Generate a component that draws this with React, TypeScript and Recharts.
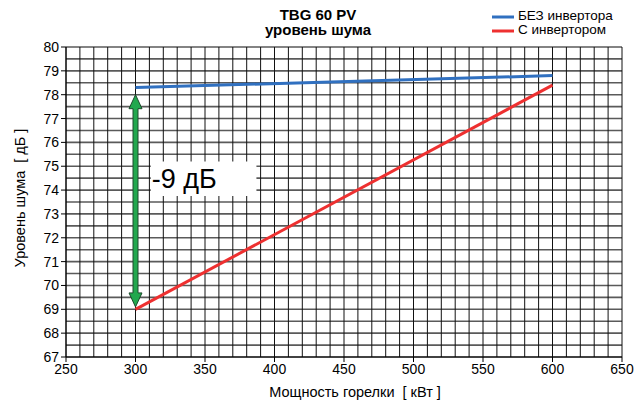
import {
	LineChart,
	Line,
	XAxis,
	YAxis,
	CartesianGrid,
	Legend,
	ReferenceLine,
	ReferenceArea,
} from 'recharts';

// мощность горелки, кВт
const power = [300, 600];
// уровень шума, дБ
const noiseNoInverter = [78.3, 78.8];
const noiseInverter = [69.0, 78.4];

const xTicks = [250, 300, 350, 400, 450, 500, 550, 600, 650];
const yTicks = [67, 68, 69, 70, 71, 72, 73, 74, 75, 76, 77, 78, 79, 80];

// minor grid: every 10 kW and every 0.5 dB
const xGrid: number[] = [];
for (let v = 250; v <= 650; v += 10) xGrid.push(v);
const yGrid: number[] = [];
for (let v = 67; v <= 80; v += 0.5) yGrid.push(v);

// arrow and "-9 дБ" note
const arrowX = 300;
const arrowTop = 78.0;
const arrowBottom = 69.1;
const noteLabel = '-9 дБ';

const data = power.map((p, i) => ({
	x: p,
	blue: noiseNoInverter[i],
	red: noiseInverter[i],
}));

const FONT = '"Liberation Sans", Arial, sans-serif';

const Arrow = (props: any) => {
	const { x1, y1, y2 } = props;
	const x = x1;
	const top = Math.min(y1, y2);
	const bot = Math.max(y1, y2);
	const hw = 6.5;
	const hl = 14;
	const sw = 2.5;
	const pts = [
		[x, top],
		[x + hw, top + hl],
		[x + sw, top + hl],
		[x + sw, bot - hl],
		[x + hw, bot - hl],
		[x, bot],
		[x - hw, bot - hl],
		[x - sw, bot - hl],
		[x - sw, top + hl],
		[x - hw, top + hl],
	]
		.map((p) => p.join(','))
		.join(' ');
	return <polygon points={pts} fill='#22a84e' stroke='#1d4a2c' strokeWidth={1} />;
};

const vLine = (p: any) => (
	<line key={p.key} x1={p.x1} y1={p.y1} x2={p.x2} y2={p.y2} stroke='#111' strokeWidth={1} />
);
const hLine = (p: any) => (
	<line key={p.key} x1={p.x1} y1={p.y1} x2={p.x2} y2={p.y2} stroke='#5a5a5a' strokeWidth={1.6} />
);

const hGridCoords = (args: any) => {
	const scale = args?.yAxis?.scale;
	if (!scale) return [];
	const fn = typeof scale === 'function' ? scale : scale.map ?? scale.scale;
	return yGrid.map((v) => fn(v));
};

const renderLegend = () => (
	<svg width={145} height={36} style={{ display: 'block' }}>
		<line x1={2} y1={11} x2={24} y2={11} stroke='#3070c0' strokeWidth={3} />
		<line x1={2} y1={25} x2={24} y2={25} stroke='#ee3030' strokeWidth={3} />
		<text x={28} y={14} fontSize={13.5} fontFamily={FONT} fill='#000'>
			БЕЗ инвертора
		</text>
		<text x={28} y={28} fontSize={13.5} fontFamily={FONT} fill='#000'>
			С инвертором
		</text>
	</svg>
);

const XTick = (props: any) => {
	const { x, y, payload } = props;
	return (
		<text x={x} y={y + 10} textAnchor='middle' fontSize={14} fontFamily={FONT} fill='#000'>
			{payload.value}
		</text>
	);
};

const YTick = (props: any) => {
	const { x, y, payload } = props;
	return (
		<text x={x} y={y + 5} textAnchor='end' fontSize={14} fontFamily={FONT} fill='#000'>
			{payload.value}
		</text>
	);
};

export default function App() {
	return (
		<div style={{ position: 'absolute', top: 0, left: 0, background: '#fff' }}>
			<LineChart
				width={640}
				height={406}
				data={data}
				margin={{ top: 47, right: 18, bottom: 19, left: 0 }}
			>
				<XAxis
					xAxisId='g'
					type='number'
					dataKey='x'
					domain={[250, 650]}
					ticks={xGrid}
					interval={0}
					hide
				/>
				<CartesianGrid
					xAxisId='g'
					vertical={vLine}
					horizontal={hLine}
					horizontalCoordinatesGenerator={hGridCoords}
				/>
				<XAxis
					type='number'
					dataKey='x'
					domain={[250, 650]}
					ticks={xTicks}
					interval={0}
					height={30}
					axisLine={{ stroke: '#000' }}
					tickLine={{ stroke: '#000' }}
					tickSize={5}
					tick={<XTick />}
				/>
				<YAxis
					type='number'
					domain={[67, 80]}
					ticks={yTicks}
					interval={0}
					width={66}
					axisLine={{ stroke: '#000' }}
					tickLine={{ stroke: '#000' }}
					tickSize={5}
					tick={<YTick />}
				/>
				<ReferenceArea
					x1={311}
					x2={387}
					y1={73.75}
					y2={75.2}
					fill='#fff'
					fillOpacity={1}
					stroke='none'
					label={{
						value: noteLabel,
						position: 'insideLeft',
						offset: 1,
						fontSize: 27,
						fontFamily: FONT,
						fill: '#000',
					}}
				/>
				<Line
					dataKey='blue'
					stroke='#3070c0'
					strokeWidth={3}
					dot={false}
					isAnimationActive={false}
				/>
				<Line
					dataKey='red'
					stroke='#ee3030'
					strokeWidth={3}
					dot={false}
					isAnimationActive={false}
				/>
				<ReferenceLine
					segment={[
						{ x: arrowX, y: arrowTop },
						{ x: arrowX, y: arrowBottom },
					]}
					shape={(p: any) => <Arrow {...p} />}
				/>
				<Legend
					layout='horizontal'
					verticalAlign='middle'
					align='center'
					content={renderLegend}
					wrapperStyle={{ top: 6, left: 490, width: 145 }}
				/>
				<text x={318} y={20} textAnchor='middle' fontSize={15} fontWeight='bold' fontFamily={FONT} fill='#000'>
					TBG 60 PV
				</text>
				<text x={318} y={35} textAnchor='middle' fontSize={15} fontWeight='bold' fontFamily={FONT} fill='#000'>
					уровень шума
				</text>
				<text
					x={25}
					y={198}
					textAnchor='middle'
					transform='rotate(-90 25 198)'
					fontSize={14.5}
					fontFamily={FONT}
					fill='#000'
					style={{ whiteSpace: 'pre' }}
				>
					{'Уровень шума  [ дБ ]'}
				</text>
				<text
					x={355}
					y={397}
					textAnchor='middle'
					fontSize={14.5}
					fontFamily={FONT}
					fill='#000'
					style={{ whiteSpace: 'pre' }}
				>
					{'Мощность горелки  [ кВт ]'}
				</text>
			</LineChart>
		</div>
	);
}
